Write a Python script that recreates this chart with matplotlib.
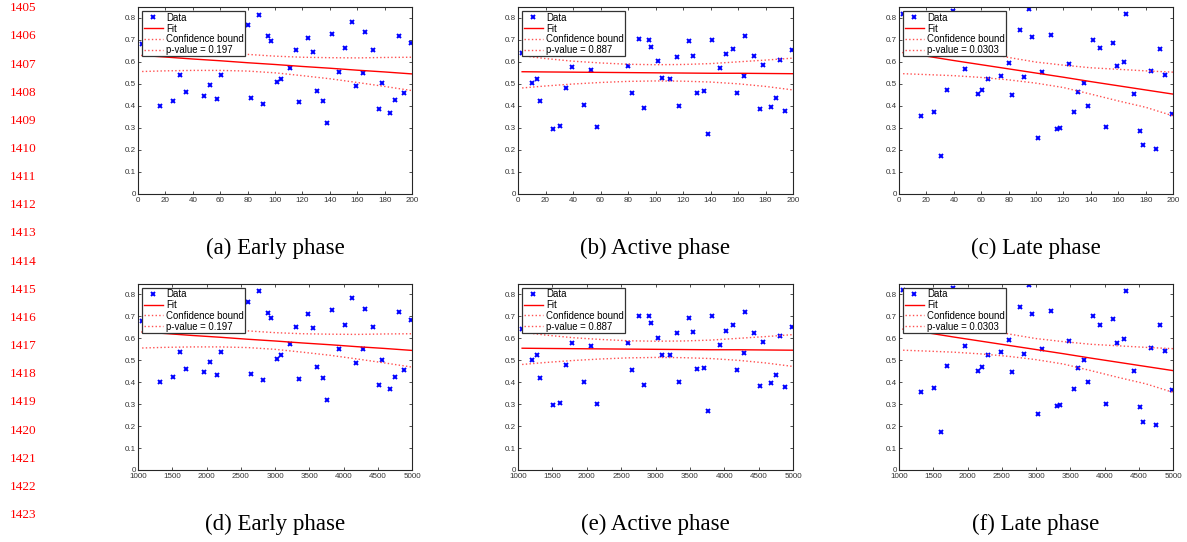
import matplotlib
matplotlib.use("Agg")
import matplotlib.pyplot as plt
import numpy as np

# sample positions (top row: step, bottom row: time)
step_x = [3.2, 10, 14, 16.3, 25.4, 30.4, 35, 39.3, 48, 52.8, 57.5, 60.5, 64.6, 74.2, 80,
          82.7, 88, 91.6, 95, 97, 101.7, 104.6, 110.6, 115.5, 117.2, 124.3, 127.4, 130.5,
          135.2, 138.2, 141.4, 146.7, 151.3, 156.1, 159, 164, 165.4, 171.3, 176, 178, 184,
          187.7, 190.8, 194.2, 199.5]
time_x = [1064, 1200, 1280, 1326, 1508, 1608, 1700, 1786, 1960, 2056, 2150, 2210, 2292, 2484,
          2600, 2654, 2760, 2832, 2900, 2940, 3034, 3092, 3212, 3310, 3344, 3486, 3548, 3610,
          3704, 3764, 3828, 3934, 4026, 4122, 4180, 4280, 4308, 4426, 4520, 4560, 4680, 4754,
          4816, 4884, 4990]

nan = np.nan
early_y = [0.681, nan, nan, 0.401, 0.422, 0.540, 0.462, nan, 0.445, 0.494, 0.431, 0.540, nan, nan,
           0.767, 0.437, 0.814, 0.410, 0.716, 0.695, 0.506, 0.523, 0.573, 0.652, 0.415, 0.709,
           0.645, 0.468, 0.421, 0.320, 0.727, 0.553, 0.663, 0.782, 0.489, 0.551, 0.734, 0.654,
           0.386, 0.502, 0.367, 0.424, 0.720, 0.458, 0.685]
active_y = [0.642, 0.503, 0.524, 0.421, 0.294, 0.306, 0.480, 0.578, 0.402, 0.564, 0.303, 0.636,
            0.645, nan, 0.579, 0.456, 0.703, 0.389, 0.700, 0.668, 0.602, 0.526, 0.523, 0.623,
            0.399, 0.694, 0.627, 0.459, 0.466, 0.270, 0.701, 0.570, 0.634, 0.660, 0.457, 0.534,
            0.718, 0.625, 0.384, 0.585, 0.395, 0.434, 0.610, 0.378, 0.654]
late_y = [0.819, nan, nan, 0.355, 0.372, 0.171, 0.473, 0.830, 0.567, nan, 0.453, 0.470, 0.524,
          0.537, 0.593, 0.448, 0.744, 0.529, 0.843, 0.713, 0.255, 0.552, 0.723, 0.293, 0.297,
          0.588, 0.370, 0.463, 0.503, 0.401, 0.700, 0.663, 0.302, 0.688, 0.579, 0.598, 0.817,
          0.453, 0.287, 0.220, 0.558, 0.204, 0.659, 0.541, 0.364]

# fit and confidence bounds, read at these positions
curve_step = [3, 20, 40, 60, 80, 100, 120, 140, 160, 180, 200]
curve_time = [1060, 1400, 1800, 2200, 2600, 3000, 3400, 3800, 4200, 4600, 5000]

early_fit = [0.629, 0.622, 0.613, 0.605, 0.596, 0.588, 0.579, 0.571, 0.562, 0.554, 0.545]
early_lo = [0.556, 0.559, 0.561, 0.561, 0.558, 0.550, 0.537, 0.523, 0.506, 0.488, 0.469]
early_hi = [0.702, 0.685, 0.665, 0.649, 0.634, 0.626, 0.621, 0.619, 0.618, 0.620, 0.621]

active_fit = [0.555, 0.554, 0.553, 0.552, 0.551, 0.550, 0.549, 0.548, 0.548, 0.547, 0.546]
active_lo = [0.481, 0.490, 0.499, 0.506, 0.511, 0.513, 0.512, 0.508, 0.500, 0.488, 0.472]
active_hi = [0.628, 0.615, 0.603, 0.595, 0.589, 0.587, 0.588, 0.592, 0.600, 0.608, 0.617]

late_fit = [0.642, 0.626, 0.606, 0.587, 0.568, 0.549, 0.530, 0.510, 0.491, 0.472, 0.453]
late_lo = [0.546, 0.542, 0.537, 0.529, 0.518, 0.503, 0.483, 0.453, 0.422, 0.393, 0.354]
late_hi = [0.738, 0.710, 0.675, 0.645, 0.620, 0.599, 0.585, 0.573, 0.566, 0.559, 0.553]

p_values = ["0.197", "0.887", "0.0303"]
captions = ["(a) Early phase", "(b) Active phase", "(c) Late phase",
            "(d) Early phase", "(e) Active phase", "(f) Late phase"]
line_numbers = list(range(1405, 1424))

phases = [
    (early_y, early_fit, early_lo, early_hi),
    (active_y, active_fit, active_lo, active_hi),
    (late_y, late_fit, late_lo, late_hi),
]

W, H = 1187, 542
fig = plt.figure(figsize=(W / 100, H / 100), dpi=100)

col_left = [138, 518, 899]
col_width = [274, 275, 274]
row_top = [7, 283.5]
row_height = 186.5

for row in range(2):
    for col in range(3):
        y, fit, lo, hi = phases[col]
        xs = step_x if row == 0 else time_x
        cx = curve_step if row == 0 else curve_time
        ax = fig.add_axes([col_left[col] / W, 1 - (row_top[row] + row_height) / H,
                           col_width[col] / W, row_height / H])
        ax.plot(xs, y, "x", color="blue", ms=2.8, mew=1.4, label="Data")
        ax.plot(cx, fit, "-", color="red", lw=1.0, label="Fit")
        ax.plot(cx, lo, ":", color="#ff5050", lw=1.0, label="Confidence bound")
        ax.plot(cx, hi, ":", color="#ff5050", lw=1.0, label="p-value = " + p_values[col])

        if row == 0:
            ax.set_xlim(0, 200)
            ax.set_xticks(np.arange(0, 201, 20))
        else:
            ax.set_xlim(1000, 5000)
            ax.set_xticks(np.arange(1000, 5001, 500))
        ax.set_ylim(0, 0.85)
        ax.set_yticks(np.arange(0, 0.81, 0.1))
        ax.set_yticklabels(["0"] + ["%.1f" % v for v in np.arange(0.1, 0.81, 0.1)])

        ax.tick_params(direction="in", length=2.2, width=0.6, top=True, right=True,
                       pad=1.5, colors="#333333", labelsize=5.8)
        ax.tick_params(axis="x", pad=2.2)
        for lab in ax.get_xticklabels() + ax.get_yticklabels():
            lab.set_fontfamily("Liberation Sans")
        for s in ax.spines.values():
            s.set_color("#262626")
            s.set_linewidth(0.8)

        leg = ax.legend(loc="upper left", prop=dict(family="Liberation Sans", size=6.9),
                        fancybox=False, framealpha=1, edgecolor="#333333",
                        borderaxespad=0.45, borderpad=0.15, labelspacing=0.08,
                        handlelength=2.0, handletextpad=0.3)
        leg.get_frame().set_linewidth(0.9)

        cap_y = 248 if row == 0 else 524
        fig.text((col_left[col] + col_width[col] / 2) / W, 1 - cap_y / H,
                 captions[row * 3 + col], ha="center", va="center",
                 family="Liberation Serif", fontsize=16.5)

for i, n in enumerate(line_numbers):
    fig.text(10 / W, 1 - (8.3 + i * 28.15) / H, str(n), ha="left", va="center",
             family="Liberation Serif", fontsize=9.5, color="red")

fig.savefig("out.png", dpi=100)
